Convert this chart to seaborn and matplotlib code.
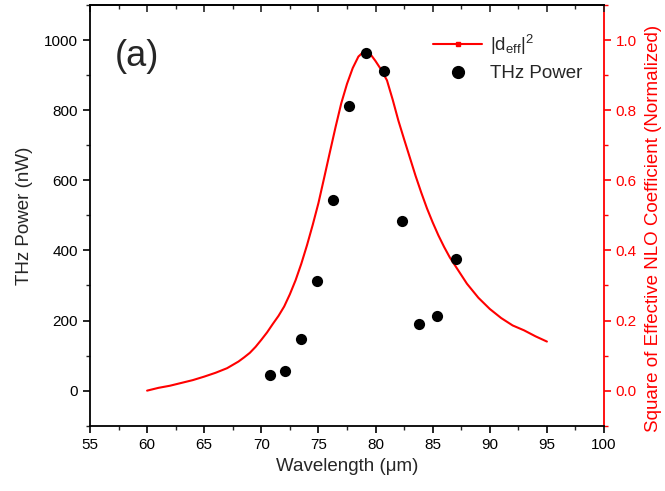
import numpy as np
import pandas as pd
import matplotlib
matplotlib.use("Agg")
import matplotlib.pyplot as plt
from matplotlib.lines import Line2D
from matplotlib.ticker import MultipleLocator, NullFormatter
import seaborn as sns

# THz power measurements
wavelength_pts = [70.8, 72.1, 73.5, 74.9, 76.3, 77.7, 79.2, 80.7, 82.3, 83.8, 85.4, 87.0]
thz_power = [45, 57, 148, 314, 544, 812, 963, 912, 484, 191, 214, 376]

# |d_eff|^2 normalized curve
wavelength_curve = [60, 61, 62, 63, 64, 65, 66, 67, 68, 68.5, 69, 69.5, 70, 70.5, 71, 71.5,
                    72, 72.5, 73, 73.5, 74, 74.5, 75, 75.5, 76, 76.5, 77, 77.5, 78, 78.5,
                    79, 79.5, 80, 80.5, 81, 81.5, 82, 82.5, 83, 83.5, 84, 84.5, 85, 85.5,
                    86, 86.5, 87, 87.5, 88, 89, 90, 91, 92, 93, 94, 95]
deff_sq = [0.0, 0.008, 0.014, 0.022, 0.030, 0.040, 0.051, 0.064, 0.083, 0.095, 0.108, 0.125,
           0.145, 0.166, 0.19, 0.213, 0.24, 0.275, 0.315, 0.362, 0.415, 0.473, 0.535, 0.607,
           0.68, 0.752, 0.82, 0.875, 0.92, 0.953, 0.968, 0.962, 0.94, 0.915, 0.885, 0.83,
           0.77, 0.717, 0.665, 0.613, 0.565, 0.52, 0.48, 0.443, 0.41, 0.38, 0.355, 0.33,
           0.305, 0.265, 0.233, 0.207, 0.186, 0.172, 0.155, 0.14]

sns.set_style("ticks")
plt.rcParams['font.family'] = ['Liberation Sans', 'DejaVu Sans']
plt.rcParams['mathtext.fontset'] = 'custom'
plt.rcParams['mathtext.rm'] = 'Liberation Sans'
plt.rcParams['mathtext.it'] = 'Liberation Sans'

fig = plt.figure(figsize=(6.65, 4.91), dpi=100)
ax = fig.add_axes([0.1353, 0.133, 0.9083 - 0.1353, 0.9898 - 0.133])
ax2 = ax.twinx()

df_pts = pd.DataFrame({"Wavelength": wavelength_pts, "Power": thz_power})
df_curve = pd.DataFrame({"Wavelength": wavelength_curve, "deff": deff_sq})

sns.lineplot(data=df_curve, x="Wavelength", y="deff", ax=ax2, color="red", linewidth=1.5)
sns.scatterplot(data=df_pts, x="Wavelength", y="Power", ax=ax, color="black", s=65,
                edgecolor="black", linewidth=0, zorder=5)
ax.set_zorder(ax2.get_zorder() + 1)
ax.patch.set_visible(False)

ax.set_xlim(55, 100)
ax.set_ylim(-100, 1100)
ax2.set_ylim(-0.1, 1.1)

ax.xaxis.set_major_locator(MultipleLocator(5))
ax.xaxis.set_minor_locator(MultipleLocator(2.5))
ax.set_yticks(np.arange(0, 1001, 200))
ax.yaxis.set_minor_locator(MultipleLocator(100))
ax2.set_yticks(np.arange(0, 1.01, 0.2))
ax2.set_yticklabels([f"{v:.1f}" for v in np.arange(0, 1.01, 0.2)])
ax2.yaxis.set_minor_locator(MultipleLocator(0.1))

ax.tick_params(axis='both', which='major', direction='out', length=5, width=1.2,
               labelsize=11, colors='black')
ax.tick_params(axis='both', which='minor', direction='out', length=3, width=1.0)

# top axis: inward ticks, no labels
top = ax.secondary_xaxis('top')
top.xaxis.set_major_locator(MultipleLocator(5))
top.xaxis.set_minor_locator(MultipleLocator(2.5))
top.xaxis.set_major_formatter(NullFormatter())
top.tick_params(axis='x', which='major', direction='in', length=5, width=1.2)
top.tick_params(axis='x', which='minor', direction='in', length=3, width=1.0)
top.spines['top'].set_linewidth(1.3)

ax2.tick_params(axis='y', which='major', direction='out', length=5, width=1.2,
                labelsize=11, colors='red')
ax2.tick_params(axis='y', which='minor', direction='out', length=3, width=1.0, colors='red')

for s in ax.spines.values():
    s.set_linewidth(1.3)
    s.set_color('black')
for s in ax2.spines.values():
    s.set_linewidth(1.3)
ax2.spines['right'].set_color('red')
ax.spines['right'].set_visible(False)
ax2.spines['left'].set_visible(False)
ax2.spines['top'].set_visible(False)
ax2.spines['bottom'].set_visible(False)

ax.set_xlabel("Wavelength (\u03bcm)", fontsize=13.5, labelpad=5)
ax.set_ylabel("THz Power (nW)", fontsize=13.5, labelpad=8)
ax2.set_ylabel("Square of Effective NLO Coefficient (Normalized)", fontsize=13.5,
               color='red')
ax2.yaxis.set_label_coords(1.08, 0.47)

ax.text(0.049, 0.92, "(a)", transform=ax.transAxes, fontsize=26, va='top', ha='left')

handles = [Line2D([0], [0], color='red', lw=1.5, marker='s', markersize=3),
           Line2D([0], [0], color='black', lw=0, marker='o', markersize=8.5)]
labels = [r"$|d_{eff}|^2$", "THz Power"]
leg = ax.legend(handles, labels, loc='upper right', bbox_to_anchor=(0.99, 0.975),
                frameon=False, fontsize=13.5, handlelength=2.6, handletextpad=0.4,
                labelspacing=0.45)

fig.savefig("out.png", dpi=100)
